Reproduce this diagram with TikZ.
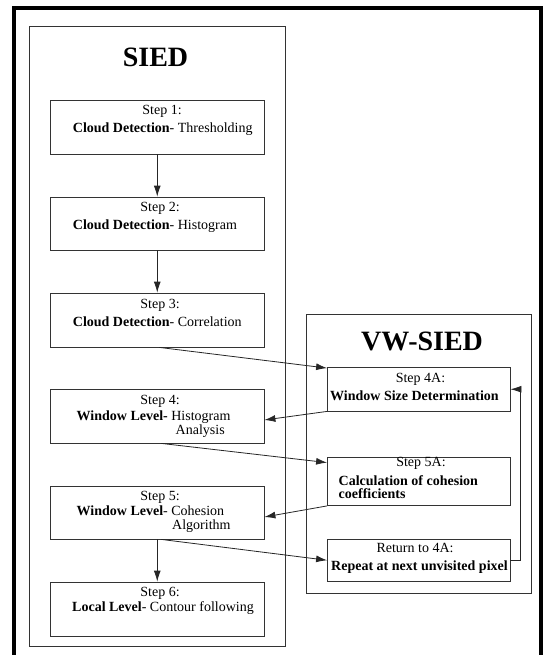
\documentclass[tikz,border=0pt]{standalone}
\usepackage{fontspec}
\setmainfont{Liberation Serif}
\usetikzlibrary{arrows.meta,calc}
\begin{document}
\begin{tikzpicture}[x=1pt,y=-1pt,
  box/.style={draw=black!80,line width=0.8pt,inner sep=0pt,rectangle},
  txt/.style={inner sep=0pt,font=\fontsize{14}{16}\selectfont},
  ttl/.style={inner sep=0pt,font=\fontsize{28}{32}\selectfont\bfseries},
  arr/.style={draw=black!85,line width=0.8pt,-{Latex[length=11pt,width=7pt]}}]
\useasboundingbox (0,0) rectangle (543,655);
\begin{scope}
\clip (0,0) rectangle (543,655);
\draw[line width=3.5pt] (14,8) rectangle (541,680);
\end{scope}
% containers
\node[box, minimum width=256.4pt, minimum height=619.3pt] (sied) at (157.5,336.35) {};
\node[box, minimum width=224.6pt, minimum height=279.3pt] (vw) at (419,453.65) {};
% titles
\node[ttl, anchor=base] (tsied) at (155.5,66.7) {SIED};
\node[ttl, anchor=base] (tvw) at (422,350.7) {VW-SIED};
% SIED steps
\node[box, minimum width=213.5pt, minimum height=54pt] (s1) at (157.25,127) {};
\node[box, minimum width=213.5pt, minimum height=53pt] (s2) at (157.25,223.5) {};
\node[box, minimum width=213.5pt, minimum height=54pt] (s3) at (157.25,320) {};
\node[box, minimum width=213.5pt, minimum height=54pt] (s4) at (157.25,416) {};
\node[box, minimum width=213.5pt, minimum height=53pt] (s5) at (157.25,512.5) {};
\node[box, minimum width=213.5pt, minimum height=54pt] (s6) at (157.25,609) {};
% VW-SIED steps
\node[box, minimum width=182.5pt, minimum height=43.5pt] (a4) at (418.75,389.25) {};
\node[box, minimum width=182.5pt, minimum height=48.5pt] (a5) at (418.75,481.25) {};
\node[box, minimum width=182.5pt, minimum height=41.5pt] (rt) at (418.75,560.25) {};
% texts
\node[txt, anchor=base] (t1a) at (162,114.3) {Step 1:};
\node[txt, anchor=base west] (t1b) at (72.7,132.7) {\textbf{Cloud Detection}- Thresholding};
\node[txt, anchor=base] (t2a) at (160,211.7) {Step 2:};
\node[txt, anchor=base west] (t2b) at (72.7,229.3) {\textbf{Cloud Detection}- Histogram};
\node[txt, anchor=base] (t3a) at (160,308.3) {Step 3:};
\node[txt, anchor=base west] (t3b) at (72.7,326) {\textbf{Cloud Detection}- Correlation};
\node[txt, anchor=base] (t4a) at (160,404.5) {Step 4:};
\node[txt, anchor=base west] (t4b) at (76.5,420.5) {\textbf{Window Level-} Histogram};
\node[txt, anchor=base west] (t4c) at (175.5,434) {Analysis};
\node[txt, anchor=base] (t5a) at (160,500.7) {Step 5:};
\node[txt, anchor=base west] (t5b) at (76.5,515) {\textbf{Window Level}- Cohesion};
\node[txt, anchor=base west] (t5c) at (172,529) {Algorithm};
\node[txt, anchor=base] (t6a) at (160,596.7) {Step 6:};
\node[txt, anchor=base west] (t6b) at (72,611.7) {\textbf{Local Level}- Contour following};
\node[txt, anchor=base] (u4a) at (420.5,382) {Step 4A:};
\node[txt, anchor=base west] (u4b) at (330,400) {\textbf{Window Size Determination}};
\node[txt, anchor=base] (u5a) at (421,466.7) {Step 5A:};
\node[txt, anchor=base west] (u5b) at (338.5,485) {\textbf{Calculation of cohesion}};
\node[txt, anchor=base west] (u5c) at (338.5,498.5) {\textbf{coefficients}};
\node[txt, anchor=base] (ura) at (415,552.5) {Return to 4A:};
\node[txt, anchor=base west] (urb) at (331,570) {\textbf{Repeat at next unvisited pixel}};
% connectors
\draw[arr] (s1.south) -- (s2.north);
\draw[arr] (s2.south) -- (s3.north);
\draw[arr] ($(s3.south)+(2,0)$) -- ($(a4.north west)+(0,1)$);
\draw[arr] (a4.south west) -- ($(s4.east)+(0,4)$);
\draw[arr] ($(s4.south)+(4,0)$) -- ($(a5.north west)+(0,6)$);
\draw[arr] (a5.south west) -- ($(s5.east)+(0,4.5)$);
\draw[arr] ($(s5.south)+(4,0)$) -- (rt.west);
\draw[arr] (s5.south) -- (s6.north);
\draw[arr] (rt.east) -- ++(10,0) |- (a4.east);
\end{tikzpicture}
\end{document}
